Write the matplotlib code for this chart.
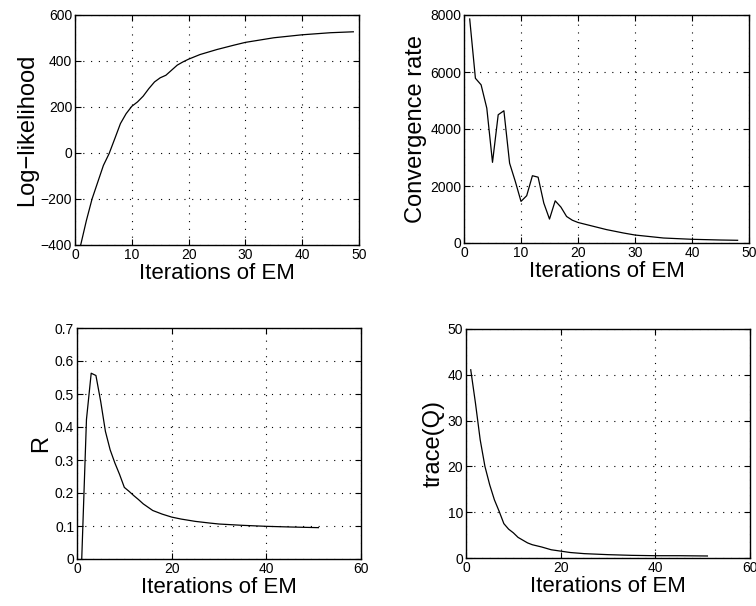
import numpy as np
import matplotlib
matplotlib.use("Agg")
import matplotlib.pyplot as plt

plt.rcParams['font.family'] = ['Liberation Sans', 'DejaVu Sans']

# log-likelihood per EM iteration
ll_iter = [1, 2, 3, 4, 5, 6, 7, 8, 9, 10, 11, 12, 13, 14, 15, 16, 17, 18, 19, 20,
           22, 25, 28, 30, 35, 40, 45, 49]
ll_vals = [-400, -294, -200, -127, -54, -3, 62, 128, 171, 203, 222, 247, 280, 309, 327,
           338, 360, 382, 396, 408, 428, 450, 469, 481, 501, 514, 523, 527]

# convergence rate
cr_iter = [1, 2, 3, 4, 5, 6, 7, 8, 9, 10, 11, 12, 13, 14, 15, 16, 17, 18, 19, 20,
           22, 25, 28, 30, 35, 40, 45, 48]
cr_vals = [7860, 5780, 5550, 4730, 2830, 4500, 4640, 2800, 2160, 1460, 1660, 2360, 2310,
           1400, 840, 1480, 1260, 930, 800, 720, 620, 470, 350, 280, 175, 130, 105, 95]

# R estimate
r_iter = [1, 2, 3, 4, 5, 6, 7, 8, 9, 10, 11, 12, 13, 14, 15, 16, 18, 20, 22, 25, 28,
          30, 35, 40, 45, 51]
r_vals = [0.0, 0.423, 0.563, 0.556, 0.478, 0.387, 0.331, 0.291, 0.256, 0.217, 0.205,
          0.192, 0.180, 0.167, 0.157, 0.147, 0.136, 0.127, 0.121, 0.114, 0.109, 0.106,
          0.102, 0.099, 0.097, 0.095]

# trace(Q)
q_iter = [1, 2, 3, 4, 5, 6, 7, 8, 9, 10, 11, 12, 13, 14, 16, 18, 20, 22, 25, 30, 35,
          40, 45, 51]
q_vals = [41.1, 33.8, 25.8, 20.0, 16.0, 12.7, 10.2, 7.5, 6.3, 5.5, 4.5, 3.9, 3.3, 2.9,
          2.4, 1.8, 1.5, 1.2, 0.95, 0.73, 0.58, 0.5, 0.5, 0.44]

W, H = 756, 606
fig = plt.figure(figsize=(W / 100, H / 100), dpi=100)


def make_axes(px_left, px_top, px_right, px_bottom):
    return fig.add_axes([px_left / W, 1 - px_bottom / H,
                         (px_right - px_left) / W, (px_bottom - px_top) / H])


def style(ax, xlim, xticks, ylim, yticks, ylabel, yfmt=None):
    ax.set_xlim(*xlim)
    ax.set_ylim(*ylim)
    ax.set_xticks(xticks)
    ax.set_yticks(yticks)
    if yfmt:
        ax.set_yticklabels([yfmt(v) for v in yticks])
    ax.grid(True, color='black', linestyle=(0, (1, 6)), linewidth=0.8)
    ax.tick_params(direction='in', top=True, right=True, length=4, width=0.8,
                   labelsize=10, pad=2)
    for s in ax.spines.values():
        s.set_linewidth(1.0)
        s.set_color('black')
    ax.set_xlabel('Iterations of EM', fontsize=16, labelpad=1)
    ax.set_ylabel(ylabel, fontsize=17, labelpad=2)


ax1 = make_axes(75, 15, 359, 245)
ax1.plot(ll_iter, ll_vals, color='black', linewidth=0.9)
style(ax1, (0, 50), range(0, 51, 10), (-400, 600), range(-400, 601, 200), 'Log\u2212likelihood')

ax2 = make_axes(464, 15, 749, 243)
ax2.plot(cr_iter, cr_vals, color='black', linewidth=0.9)
style(ax2, (0, 50), range(0, 51, 10), (0, 8000), range(0, 8001, 2000), 'Convergence rate')

ax3 = make_axes(77, 328, 361, 559)
ax3.plot(r_iter, r_vals, color='black', linewidth=0.9)
style(ax3, (0, 60), range(0, 61, 20), (0, 0.7), np.arange(0, 0.71, 0.1), 'R',
      yfmt=lambda v: '0' if abs(v) < 1e-9 else '%.1f' % v)

ax4 = make_axes(466, 329, 750, 558)
ax4.plot(q_iter, q_vals, color='black', linewidth=0.9)
style(ax4, (0, 60), range(0, 61, 20), (0, 50), range(0, 51, 10), 'trace(Q)')

fig.savefig('out.png', dpi=100)
